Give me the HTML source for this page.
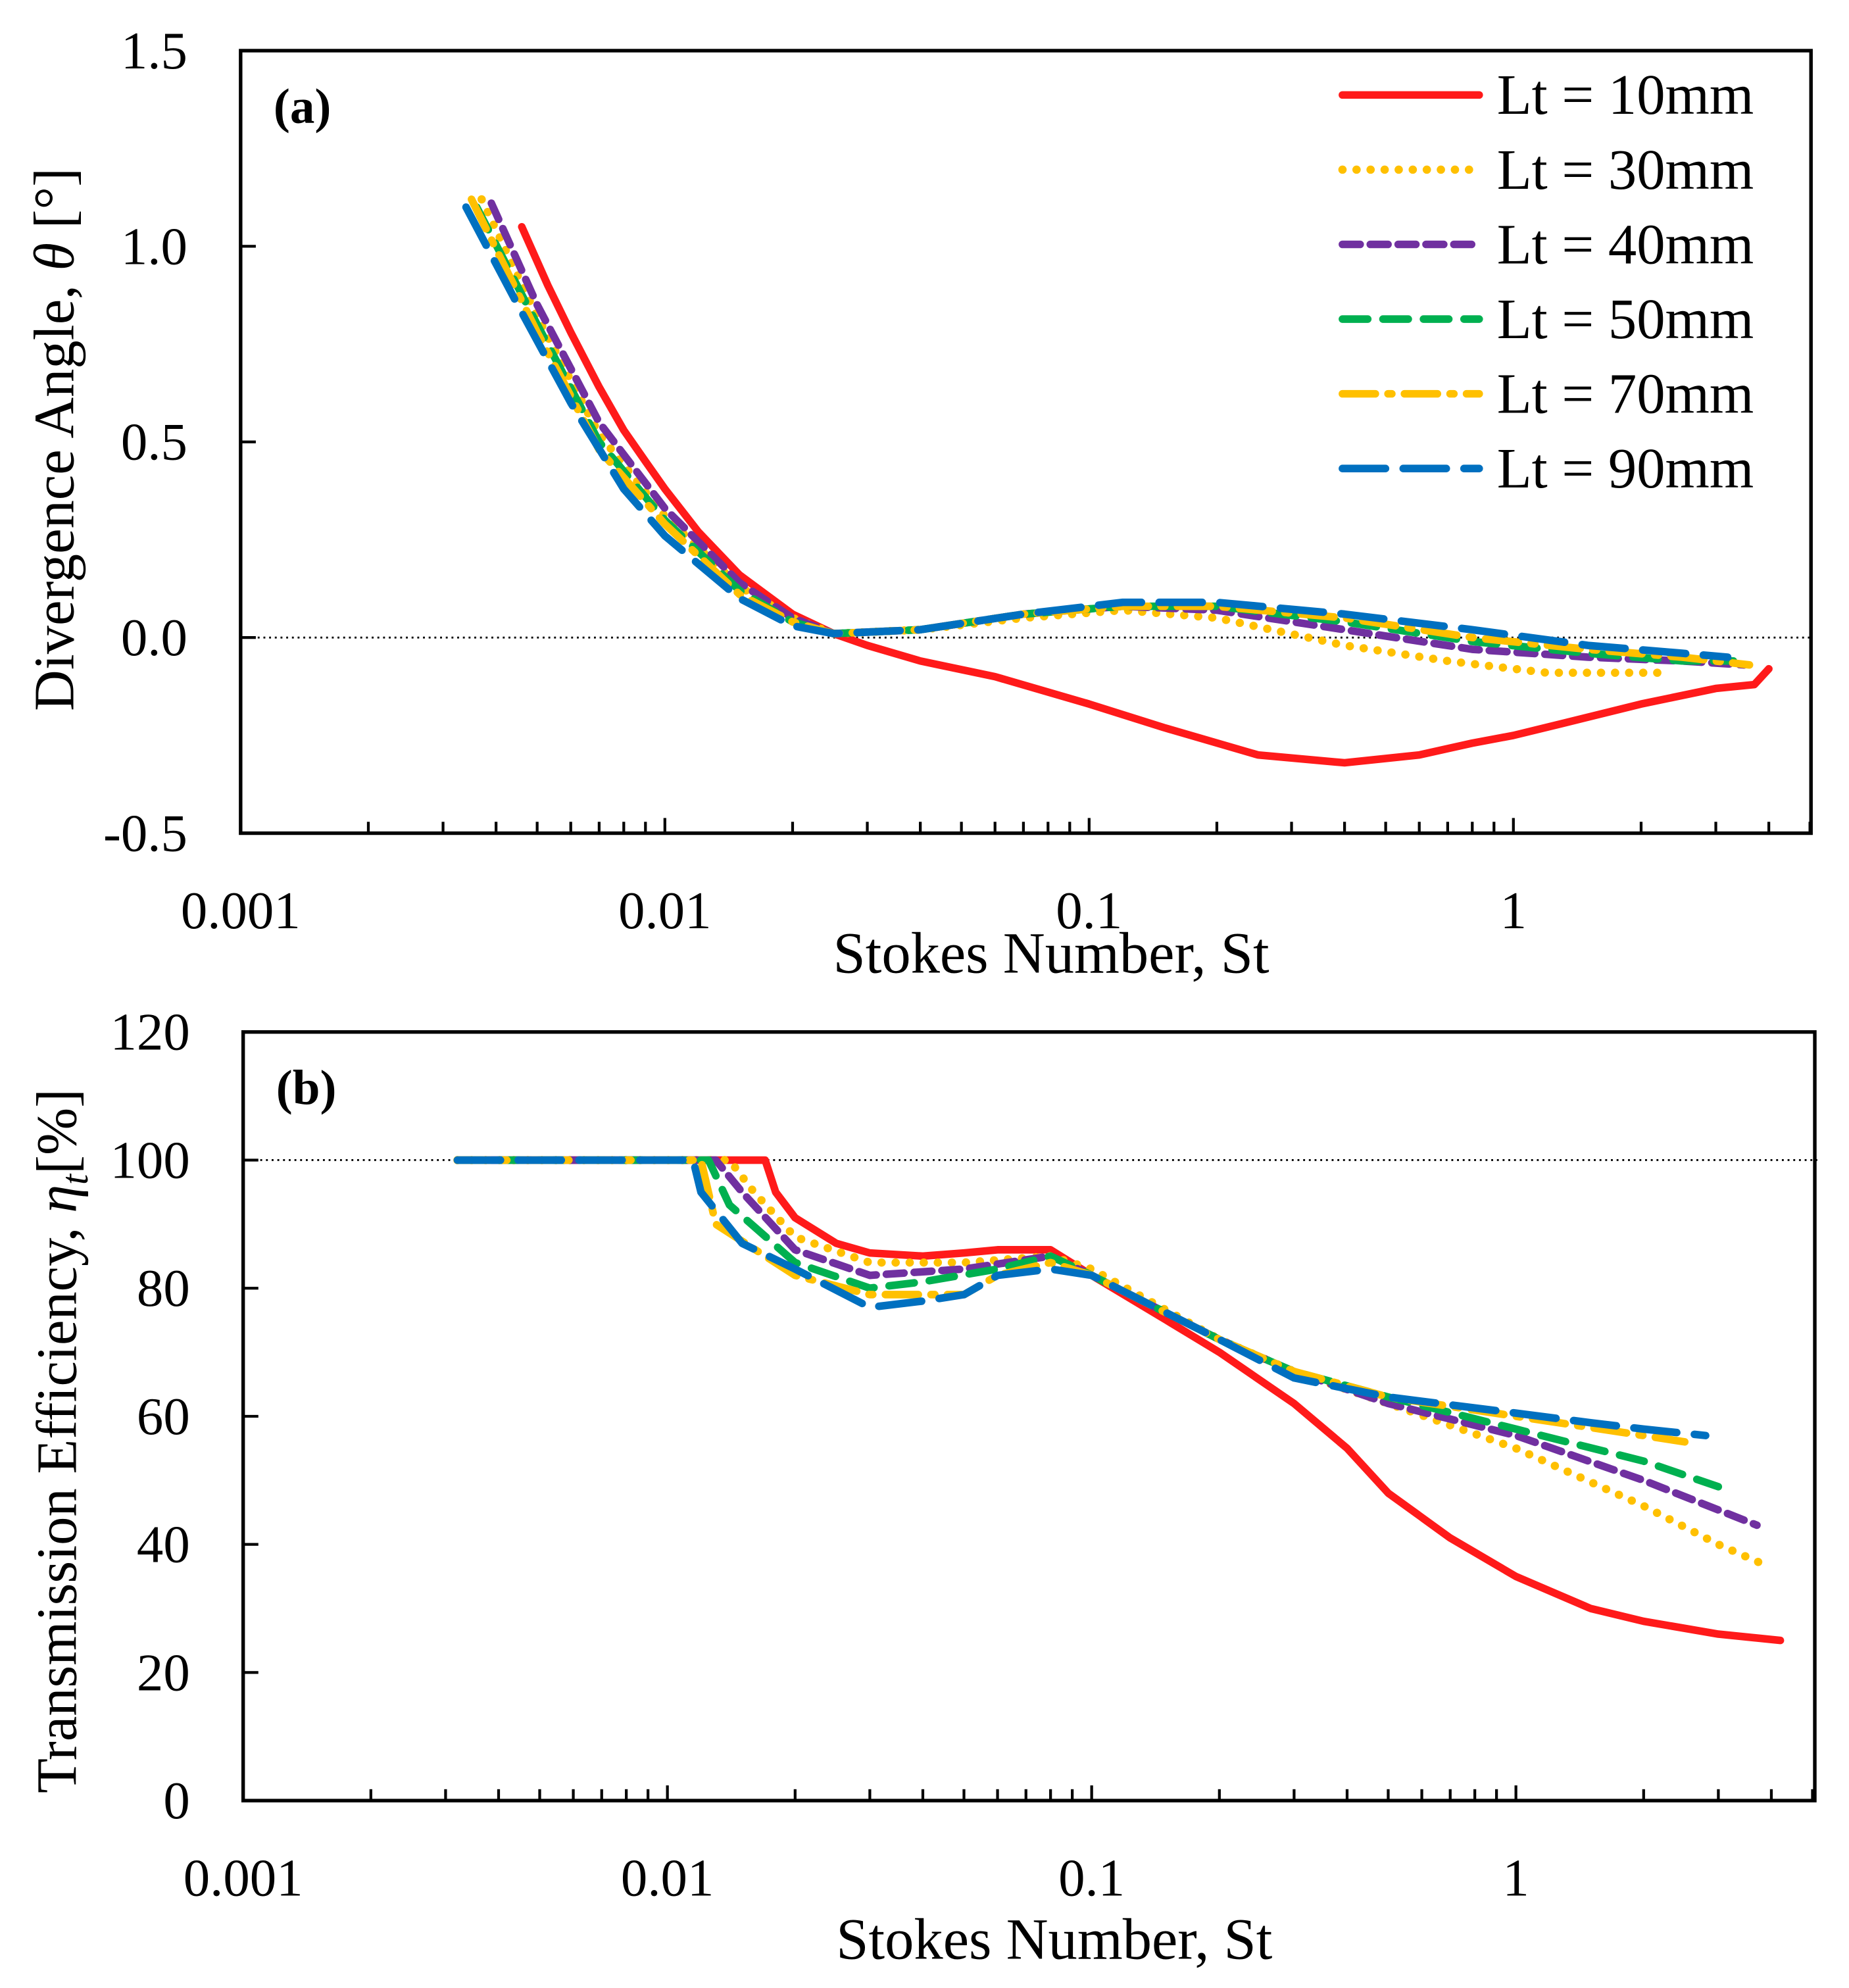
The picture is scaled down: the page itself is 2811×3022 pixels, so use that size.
<!DOCTYPE html>
<html><head><meta charset="utf-8"><style>
html,body{margin:0;padding:0;background:#fff}
svg{display:block}
text{font-family:"Liberation Serif",serif;fill:#000}
</style></head><body>
<svg id="fig" width="2811" height="3022" viewBox="0 0 1460 1570" preserveAspectRatio="none" xmlns="http://www.w3.org/2000/svg"></svg>
<script>
// ---- data ----
const seriesNames = ["Lt = 10mm","Lt = 30mm","Lt = 40mm","Lt = 50mm","Lt = 70mm","Lt = 90mm"];
const seriesColors = ["#ff1a1a","#ffc000","#7030a0","#00b050","#ffc000","#0070c0"];
const xTickLabels = ["0.001","0.01","0.1","1"];
const xTickValues = [0.001,0.01,0.1,1];
const aTickValues = [-0.5,0,0.5,1,1.5];
const aTickLabels = ["-0.5","0.0","0.5","1.0","1.5"];
const bTickValues = [0,20,40,60,80,100,120];
const bTickLabels = ["0","20","40","60","80","100","120"];
// panel (a): divergence angle
const aSt10 = [0.0046,0.0053,0.006,0.007,0.008,0.009,0.01,0.012,0.015,0.02,0.025,0.03,0.04,0.06,0.1,0.15,0.25,0.4,0.6,0.8,1.0,1.3,2.0,3.0,3.7,4.0];
const aTh10 = [1.05,0.9,0.78,0.64,0.53,0.45,0.38,0.27,0.16,0.06,0.01,-0.02,-0.06,-0.1,-0.17,-0.23,-0.3,-0.32,-0.3,-0.27,-0.25,-0.22,-0.17,-0.13,-0.12,-0.08];
const aSt30 = [0.0037,0.005,0.007,0.01,0.015,0.02,0.025,0.04,0.07,0.12,0.2,0.4,0.7,1.2,2.2];
const aTh30 = [1.12,0.82,0.52,0.31,0.13,0.05,0.01,0.02,0.05,0.07,0.05,-0.02,-0.06,-0.09,-0.09];
const aSt40 = [0.0039,0.005,0.007,0.01,0.015,0.02,0.025,0.04,0.07,0.12,0.2,0.4,0.8,1.5,2.5,3.5];
const aTh40 = [1.11,0.85,0.55,0.33,0.14,0.05,0.01,0.02,0.06,0.08,0.07,0.02,-0.03,-0.05,-0.06,-0.07];
const aSt50 = [0.0036,0.005,0.007,0.01,0.015,0.02,0.025,0.04,0.07,0.12,0.2,0.4,0.8,1.5,2.5,3.3];
const aTh50 = [1.1,0.8,0.5,0.3,0.12,0.04,0.01,0.02,0.06,0.08,0.08,0.04,-0.01,-0.04,-0.06,-0.06];
const aSt70 = [0.0035,0.005,0.007,0.01,0.015,0.02,0.025,0.04,0.07,0.12,0.2,0.4,0.8,1.5,2.5,3.6];
const aTh70 = [1.12,0.78,0.48,0.29,0.11,0.04,0.01,0.02,0.06,0.08,0.08,0.05,0.0,-0.03,-0.05,-0.07];
const aSt90 = [0.0034,0.0045,0.006,0.008,0.01,0.015,0.02,0.025,0.04,0.07,0.12,0.2,0.4,0.8,1.5,2.5,3.2];
const aTh90 = [1.1,0.85,0.6,0.38,0.26,0.1,0.03,0.01,0.02,0.06,0.09,0.09,0.06,0.02,-0.02,-0.04,-0.05];
// panel (b): transmission efficiency
const bSt10 = [0.0032,0.016,0.017,0.018,0.02,0.025,0.03,0.04,0.05,0.06,0.08,0.1,0.15,0.2,0.3,0.4,0.5,0.7,1.0,1.5,2,3,4.2];
const bEt10 = [100,100,100,95,91,87,85.5,85,85.5,86,86,82,75,70,62,55,48,41,35,30,28,26,25];
const bSt30 = [0.0032,0.014,0.016,0.02,0.03,0.05,0.08,0.1,0.2,0.3,0.5,1,2,3,3.8];
const bEt30 = [100,100,95,88,84,84,85,83,72,67,62,55,46,40,37];
const bSt40 = [0.0032,0.013,0.015,0.02,0.03,0.05,0.08,0.1,0.2,0.3,0.5,1,2,3.7];
const bEt40 = [100,100,95,86,82,83,85,82,72,67,62,57,50,43];
const bSt50 = [0.0032,0.0125,0.014,0.02,0.03,0.04,0.06,0.08,0.1,0.2,0.3,0.5,1,2,3];
const bEt50 = [100,100,93,84,80,81,83,85,82,72,67,63,58,53,49];
const bSt70 = [0.0032,0.012,0.013,0.02,0.03,0.05,0.06,0.08,0.1,0.2,0.3,0.5,1,2,2.5];
const bEt70 = [100,100,90,82,79,79,82,84,82,72,67,63,60,57,56];
const bSt90 = [0.0032,0.0115,0.012,0.015,0.02,0.03,0.04,0.05,0.06,0.08,0.1,0.2,0.3,0.5,1,1.5,2,2.8];
const bEt90 = [100,100,95,87,83,77,78,79,82,83,82,72,66,63,60.5,59,58,57];

const aX = [aSt10,aSt30,aSt40,aSt50,aSt70,aSt90], aY = [aTh10,aTh30,aTh40,aTh50,aTh70,aTh90];
const bX = [bSt10,bSt30,bSt40,bSt50,bSt70,bSt90], bY = [bEt10,bEt30,bEt40,bEt50,bEt70,bEt90];
const dashes = ["", "0.1 11", "14 8", "20 12", "26 10 3 10", "34 14"];

const NS = "http://www.w3.org/2000/svg";
const svg = document.getElementById("fig");
function mk(tag, attrs, parent){const e=document.createElementNS(NS,tag);for(const k in attrs)e.setAttribute(k,attrs[k]);(parent||svg).appendChild(e);return e;}

function panel(cfg){
  const g = mk("g",{});
  
  
  const xs = v => cfg.L + (Math.log10(v)+3)*cfg.dec;
  const ys = v => cfg.B - (v-cfg.yMin)/(cfg.yMax-cfg.yMin)*(cfg.B-cfg.T);
  const rl = mk("line",{x1:cfg.L,x2:cfg.R+2,y1:ys(cfg.ref),y2:ys(cfg.ref),stroke:"#000","stroke-width":1.5,"stroke-dasharray":"1.5 3"},g);
  
  
  for(let i=0;i<6;i++){
    const xsA=cfg.xd[i], ysA=cfg.yd[i];
    const d = xsA.map((v,j)=>(j?"L":"M")+xs(v).toFixed(1)+","+ys(ysA[j]).toFixed(1)).join(" ");
    const p = mk("path",{d:d,fill:"none",stroke:seriesColors[i],"stroke-width":i==1?6.5:6,"stroke-linecap":"round","stroke-linejoin":"round"},g);
    if(dashes[i]) p.setAttribute("stroke-dasharray",dashes[i]);
    
    
  }
  const fr = mk("rect",{x:cfg.L,y:cfg.T,width:cfg.R-cfg.L,height:cfg.B-cfg.T,fill:"none",stroke:"#000","stroke-width":2.8},g);
  
  
  for(let e=-3;e<=0;e++){
    for(let m=1;m<=9;m++){
      const v=m*Math.pow(10,e); const x=xs(v); if(x>cfg.R) continue;
      if(m===1 && e===-3) continue;
      const t=mk("line",{x1:x,x2:x,y1:cfg.B,y2:cfg.B-(m===1?12:9),stroke:"#000","stroke-width":2.2},g);
      
      
    }
  }
  xTickValues.forEach((v,i)=>{
    const t=mk("text",{x:xs(v),y:cfg.B+75,"text-anchor":"middle","font-size":42},g);
    t.textContent=xTickLabels[i];
    
    
  });
  const xt=mk("text",{x:(cfg.L+cfg.R)/2+20,y:cfg.B+cfg.xto,"text-anchor":"middle","font-size":46},g);
  xt.textContent="Stokes Number, St";
  
  
  cfg.yt.forEach((v,i)=>{
    const y=ys(v);
    const t=mk("line",{x1:cfg.L,x2:cfg.L+12,y1:y,y2:y,stroke:"#000","stroke-width":2.2},g);
    
    
    const l=mk("text",{x:cfg.L-42,y:y+14,"text-anchor":"end","font-size":42},g);
    l.textContent=cfg.yl[i];
    
    
  });
  const yt=mk("text",{"text-anchor":"middle","font-size":cfg.ytfs,transform:`translate(${cfg.ytx},${cfg.ytc}) rotate(-90)`},g);
  yt.innerHTML=cfg.ytitle;
  
  
  const pl=mk("text",{x:cfg.L+26,y:cfg.T+57,"font-size":39,"font-weight":"bold"},g);
  pl.textContent=cfg.label;
  
  
  return g;
}

panel({name:"panel-a-divergence",L:190,R:1430,T:40,B:658,dec:335,yMin:-0.5,yMax:1.5,ref:0,xd:aX,yd:aY,yt:aTickValues,yl:aTickLabels,xto:110,
  ytx:58,ytc:347,ytfs:45,ytitle:'Divergence Angle, <tspan font-style="italic">θ</tspan> [°]',label:"(a)"});
panel({name:"panel-b-transmission",L:192,R:1433,T:815,B:1422,dec:335,yMin:0,yMax:120,ref:100,xd:bX,yd:bY,yt:bTickValues,yl:bTickLabels,xto:125,
  ytx:60,ytc:1138,ytfs:45,ytitle:'Transmission Efficiency, <tspan font-style="italic">η</tspan><tspan font-style="italic" font-size="30" dy="9">t</tspan><tspan dy="-9">[%]</tspan>',label:"(b)"});

const lg = mk("g",{});


seriesNames.forEach((n,i)=>{
  const y=75+i*59;
  const ln=mk("line",{x1:1060,x2:1168,y1:y,y2:y,stroke:seriesColors[i],"stroke-width":i==1?6.5:6,"stroke-linecap":"round"},lg);
  if(dashes[i]) ln.setAttribute("stroke-dasharray",dashes[i]);
  
  
  const t=mk("text",{x:1182,y:y+15,"font-size":45},lg);
  t.textContent=n;
  
  
});
</script>
</body></html>
